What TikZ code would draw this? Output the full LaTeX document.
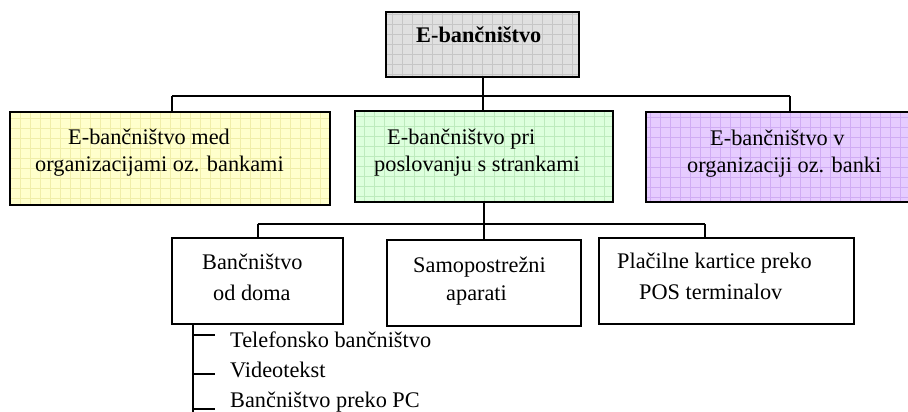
\documentclass[tikz,border=0pt]{standalone}
\usepackage{fontspec}
\setmainfont{Liberation Serif}
\definecolor{grayfill}{HTML}{E0E0E0}
\definecolor{graygrid}{HTML}{C6C6C6}
\definecolor{yelfill}{HTML}{FFFFCC}
\definecolor{yelgrid}{HTML}{F0EEA8}
\definecolor{grnfill}{HTML}{DDFFDD}
\definecolor{grngrid}{HTML}{BDEBBD}
\definecolor{purfill}{HTML}{E6CCFF}
\definecolor{purgrid}{HTML}{D0ACF4}
\tikzset{
  box/.style={draw=black, line width=2.2pt, rectangle, inner sep=0pt},
  gridbox/.style={box, fill=#1fill,
    path picture={\draw[#1grid, line width=0.6pt, step=10pt]
      (path picture bounding box.south west) grid (path picture bounding box.north east);}},
  plainbox/.style={box, fill=white},
  txt/.style={anchor=base west, inner sep=0pt, font=\fontsize{22.3}{27}\selectfont},
  btxt/.style={txt, font=\fontsize{22.3}{27}\selectfont\bfseries},
  conn/.style={draw=black, line width=2pt},
}
\begin{document}
\begin{tikzpicture}[x=1pt, y=-1pt]
  \useasboundingbox (0,0) rectangle (908,412);
  \clip (0,0) rectangle (908,412);

  % top level
  \node[gridbox=gray, minimum width=193pt, minimum height=65pt, line width=2.6pt] (top) at (482.5,44.5) {};
  \node[btxt] (ttop) at (416,43) {E-bančništvo};

  % second level
  \node[gridbox=yel, minimum width=320pt, minimum height=93pt] (yellow) at (170,158.5) {};
  \node[txt] (ty1) at (68,144) {E-bančništvo med};
  \node[txt] (ty2) at (35,171) {organizacijami oz. bankami};

  \node[gridbox=grn, minimum width=258pt, minimum height=91pt] (green) at (484,156.5) {};
  \node[txt] (tg1) at (387,144) {E-bančništvo pri};
  \node[txt] (tg2) at (374,171) {poslovanju s strankami};

  \node[gridbox=pur, minimum width=268pt, minimum height=90pt] (purple) at (780,157) {};
  \node[txt] (tp1) at (710,145) {E-bančništvo v};
  \node[txt] (tp2) at (687,172) {organizaciji oz. banki};

  % third level
  \node[plainbox, minimum width=171pt, minimum height=86pt] (home) at (257.5,281) {};
  \node[txt] (th1) at (202,269) {Bančništvo};
  \node[txt] (th2) at (213,300) {od doma};

  \node[plainbox, minimum width=194pt, minimum height=86pt] (self) at (484,283) {};
  \node[txt] (ts1) at (413,272) {Samopostrežni};
  \node[txt] (ts2) at (446,300) {aparati};

  \node[plainbox, minimum width=255pt, minimum height=86pt] (pos) at (726.5,281) {};
  \node[txt] (tc1) at (617,268) {Plačilne kartice preko};
  \node[txt] (tc2) at (639,299) {POS terminalov};

  % connectors, first bus
  \coordinate (j1) at (172,96);
  \coordinate (j2) at (790,96);
  \draw[conn] (j1) -- (j2);
  \draw[conn] (j1) -- (j1 |- yellow.north);
  \draw[conn] (j2) -- (j2 |- purple.north);
  \draw[conn] (top.south) -- (top.south |- green.north);

  % connectors, second bus
  \coordinate (k1) at (257.5,224);
  \coordinate (k2) at (705,224);
  \draw[conn] (k1) -- (k2);
  \draw[conn] (k1) -- (k1 |- home.north);
  \draw[conn] (k2) -- (k2 |- pos.north);
  \draw[conn] (green.south) -- (green.south |- self.north);

  % list under home banking
  \coordinate (l0) at (193,324);
  \coordinate (lend) at (193,414);
  \draw[conn] (l0) -- (lend);
  \coordinate (m1) at (193,335);
  \coordinate (m2) at (193,374);
  \coordinate (m3) at (193,408.5);
  \draw[conn] (m1) -- ++(22,0);
  \draw[conn] (m2) -- ++(22,0);
  \draw[conn] (m3) -- ++(22,0);
  \node[txt] (i1) at (230,347.5) {Telefonsko bančništvo};
  \node[txt] (i2) at (230,377) {Videotekst};
  \node[txt] (i3) at (230,407.5) {Bančništvo preko PC};
\end{tikzpicture}
\end{document}
